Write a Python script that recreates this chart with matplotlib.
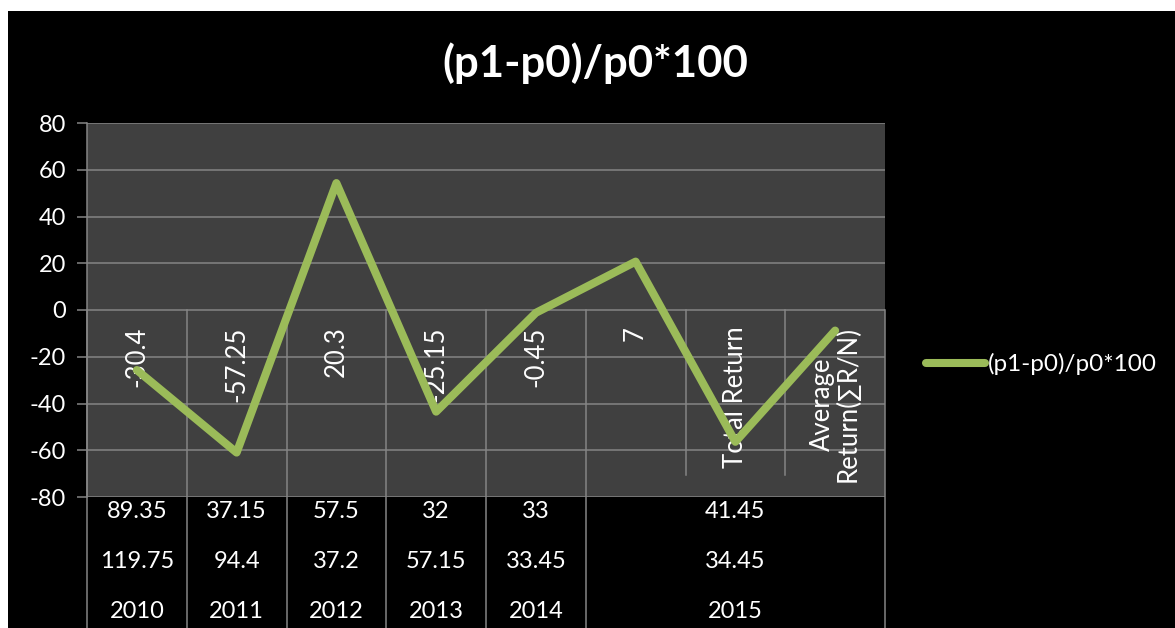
import matplotlib
matplotlib.use('Agg')
import matplotlib.pyplot as plt
from matplotlib.patches import Rectangle

plt.rcParams['font.family'] = ['Lato', 'DejaVu Sans']

# series plotted on the chart
values = [-25.7, -61.0, 54.3, -43.5, -1.2, 20.7, -56.4, -8.8]
series_name = '(p1-p0)/p0*100'

# multi-level category axis
level1 = ['-30.4', '-57.25', '20.3', '-25.15', '-0.45', '7',
          'Total Return', 'Average\nReturn(\u2211R/N)']
row_a = ['89.35', '37.15', '57.5', '32', '33', '41.45']
row_b = ['119.75', '94.4', '37.2', '57.15', '33.45', '34.45']
years = ['2010', '2011', '2012', '2013', '2014', '2015']
group_sizes = [1, 1, 1, 1, 1, 3]

yticks = [-80, -60, -40, -20, 0, 20, 40, 60, 80]

W, H = 1175, 628
fig = plt.figure(figsize=(W / 100, H / 100), dpi=100)
fig.patch.set_facecolor('white')
fig.add_artist(Rectangle((8 / W, 0), 1 - 8 / W, (H - 11) / H,
                         transform=fig.transFigure, facecolor='black',
                         edgecolor='none', zorder=0))

left, right, top, bottom = 87, 885, 123, 497
ax = fig.add_axes([left / W, (H - bottom) / H, (right - left) / W, (bottom - top) / H])
ax.set_facecolor('#404040')

grid_col = '#858585'
fs = 17
ax.set_xlim(-0.5, len(values) - 0.5)
ax.set_ylim(-80, 80)
ax.set_yticks(yticks)
ax.set_yticklabels([str(t) for t in yticks])
ax.tick_params(axis='y', colors=grid_col, labelcolor='white', labelsize=fs,
               length=7, width=1.1, pad=8)
ax.set_xticks([])
for t in yticks:
    ax.axhline(t, color=grid_col, lw=1.1, zorder=1)
for side in ['top', 'right', 'bottom']:
    ax.spines[side].set_visible(False)
ax.spines['left'].set_color(grid_col)
ax.spines['left'].set_linewidth(1.1)

xt = ax.get_xaxis_transform()
zero_frac = 0.5
short_end = (bottom - 475) / (bottom - top)
fig_bottom = -(H - bottom) / (bottom - top) - 0.01

# category dividers: group edges run down through the table, inner ones stop short
edges = [-0.5]
for n in group_sizes:
    edges.append(edges[-1] + n)
for k in range(len(values) + 1):
    x = k - 0.5
    y_end = fig_bottom if x in edges else short_end
    ax.plot([x, x], [zero_frac, y_end], transform=xt, color=grid_col,
            lw=1.1, clip_on=False, zorder=1)

# first level labels, rotated, hanging below the zero line
for i, lab in enumerate(level1):
    ax.text(i, -7.0, lab, rotation=90, ha='center', va='top',
            multialignment='center', linespacing=1.0,
            color='white', fontsize=18.5, zorder=2)

# lower levels of the category axis
row_y = [(bottom - 512) / (bottom - top), (bottom - 562) / (bottom - top),
         (bottom - 612) / (bottom - top)]
for j, n in enumerate(group_sizes):
    cx = (edges[j] + edges[j + 1]) / 2
    for yy, row in zip(row_y, [row_a, row_b, years]):
        ax.text(cx, yy, row[j], transform=xt, ha='center', va='center',
                color='white', fontsize=fs, clip_on=False)

ax.plot(range(len(values)), values, color='#9BBB59', lw=5.8,
        solid_capstyle='round', solid_joinstyle='round', zorder=3,
        label=series_name)

ax.set_title(series_name, color='white', fontsize=31.5, fontweight='bold',
             x=(595 - left) / (right - left), y=1.0, pad=33)

leg = ax.legend(loc='center left', bbox_to_anchor=(916 / W, (H - 364) / H),
                bbox_transform=fig.transFigure, frameon=False, fontsize=fs + 0.5,
                handlelength=2.45, handletextpad=0.1, borderaxespad=0)
for txt in leg.get_texts():
    txt.set_color('white')

fig.savefig('out.png', dpi=100, facecolor=fig.get_facecolor())
